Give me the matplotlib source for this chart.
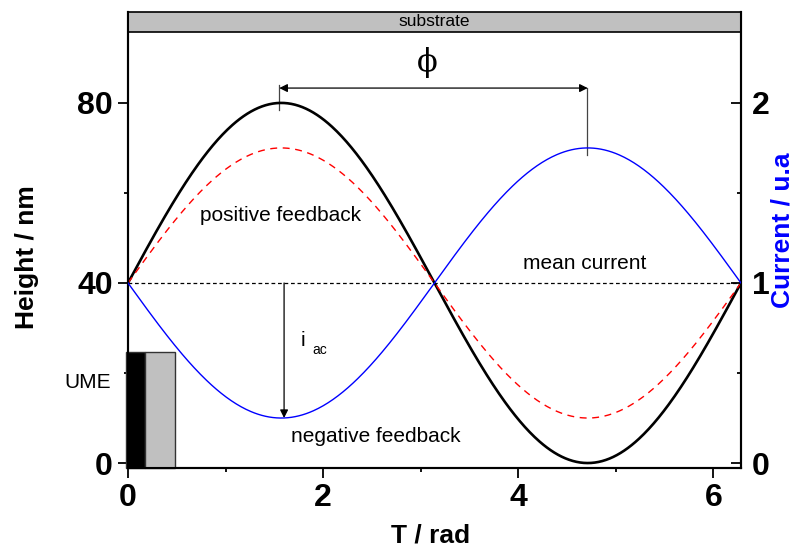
import numpy as np
import matplotlib
matplotlib.use("Agg")
import matplotlib.pyplot as plt
from matplotlib.patches import Rectangle

plt.rcParams['font.family'] = ['Liberation Sans', 'DejaVu Sans']

# ---- data ----
theta = np.linspace(0, 2 * np.pi, 500)          # T / rad
mean_height = 40.0                               # nm
height_amplitude = 40.0                          # nm, black solid
pos_feedback_amplitude = 30.0                    # nm, red dashed
mean_current = 1.0                               # u.a
current_amplitude = 0.75                         # u.a, blue (negative feedback)

height = mean_height + height_amplitude * np.sin(theta)
pos_feedback = mean_height + pos_feedback_amplitude * np.sin(theta)
current = mean_current - current_amplitude * np.sin(theta)

x_major = [0, 2, 4, 6]
x_minor = [1, 3, 5]
y_major = [0, 40, 80]
y_minor = [20, 60]
y2_major = [0, 1, 2]
y2_minor = [0.5, 1.5]

ylim = (-1.1, 100.2)
ratio = 40.0  # nm per current unit

fig = plt.figure(figsize=(7.94, 5.5), dpi=100)
ax = fig.add_axes([0.1612, 0.1491, 0.772, 0.8291])
ax2 = ax.twinx()

ax.plot(theta, height, color='black', lw=1.9, zorder=3)
ax.plot(theta, pos_feedback, color='red', lw=1.0, ls=(0, (5, 4)), zorder=3)
ax.plot([0, 2 * np.pi], [mean_height, mean_height], color='black', lw=0.9,
        ls=(0, (3, 2.2)), zorder=2)
ax2.plot(theta, current, color='blue', lw=1.0, zorder=3)

ax.set_xlim(0, 2 * np.pi)
ax.set_ylim(*ylim)
ax2.set_ylim(ylim[0] / ratio, ylim[1] / ratio)

ax.set_xticks(x_major)
ax.set_xticks(x_minor, minor=True)
ax.set_yticks(y_major)
ax.set_yticks(y_minor, minor=True)
ax2.set_yticks(y2_major)
ax2.set_yticks(y2_minor, minor=True)

for a in (ax, ax2):
    a.spines['top'].set_visible(False)
    for s in a.spines.values():
        s.set_linewidth(1.5)

ax.tick_params(axis='both', which='major', direction='out', length=7, width=1.3,
               labelsize=23, pad=4)
ax.tick_params(axis='both', which='minor', direction='out', length=3, width=1.3)
ax2.tick_params(axis='y', which='major', direction='in', length=7, width=1.3,
                labelsize=23, pad=8)
ax2.tick_params(axis='y', which='minor', direction='in', length=3, width=1.3)
for lab in ax.get_xticklabels() + ax.get_yticklabels() + ax2.get_yticklabels():
    lab.set_fontweight('bold')

xl = ax.set_xlabel('T / rad', fontsize=19, fontweight='bold')
yl = ax.set_ylabel('Height / nm', fontsize=19, fontweight='bold')
yl2 = ax2.set_ylabel('Current / u.a', fontsize=19, fontweight='bold', color='blue')
for lab in (xl, yl, yl2):
    lab.set_va('center')
    lab.set_ha('center')
ax.xaxis.set_label_coords(0.493, -0.149)
ax.yaxis.set_label_coords(-0.165, 0.463)
ax2.yaxis.set_label_coords(1.067, 0.522)

# substrate bar
ax.add_patch(Rectangle((0, 95.8), 2 * np.pi, ylim[1] - 95.8, facecolor='#c0c0c0',
                       edgecolor='black', lw=1.2, clip_on=False, zorder=4))
ax.text(np.pi, 98.0, 'substrate', ha='center', va='center', fontsize=12.5, zorder=5)

# UME
ax.add_patch(Rectangle((-0.02, ylim[0]), 0.195, 24.7 - ylim[0], facecolor='black',
                       edgecolor='#333333', lw=1.0, clip_on=False, zorder=4))
ax.add_patch(Rectangle((0.175, ylim[0]), 0.305, 24.7 - ylim[0], facecolor='#c0c0c0',
                       edgecolor='#333333', lw=1.0, clip_on=False, zorder=4))
ax.text(-0.41, 17.8, 'UME', ha='center', va='center', fontsize=15)

# phase arrow
ax.annotate('', xy=(np.pi / 2 - 0.02, 83.3), xytext=(3 * np.pi / 2, 83.3),
            arrowprops=dict(arrowstyle='<|-|>', color='black', lw=0.9,
                            mutation_scale=12, shrinkA=0, shrinkB=0))
ax.plot([1.55, 1.55], [78.4, 84.0], color='#444444', lw=0.9)
ax.plot([4.70, 4.70], [68.4, 83.3], color='#444444', lw=0.9)
ax.text(3.07, 88.9, '\u03d5', ha='center', va='center', fontsize=22,
        family=['DejaVu Serif'])

# i_ac arrow
ax.annotate('', xy=(1.60, 10.0), xytext=(1.60, 40.0),
            arrowprops=dict(arrowstyle='-|>', color='black', lw=0.9,
                            mutation_scale=12, shrinkA=0, shrinkB=0))
ax.text(1.795, 27.3, 'i', ha='center', va='center', fontsize=15)
ax.text(1.97, 25.1, 'ac', ha='center', va='center', fontsize=10)

ax.text(1.56, 54.9, 'positive feedback', ha='center', va='center', fontsize=15)
ax.text(4.68, 44.4, 'mean current', ha='center', va='center', fontsize=15)
ax.text(2.54, 5.8, 'negative feedback', ha='center', va='center', fontsize=15)

fig.savefig('out.png', dpi=100)
